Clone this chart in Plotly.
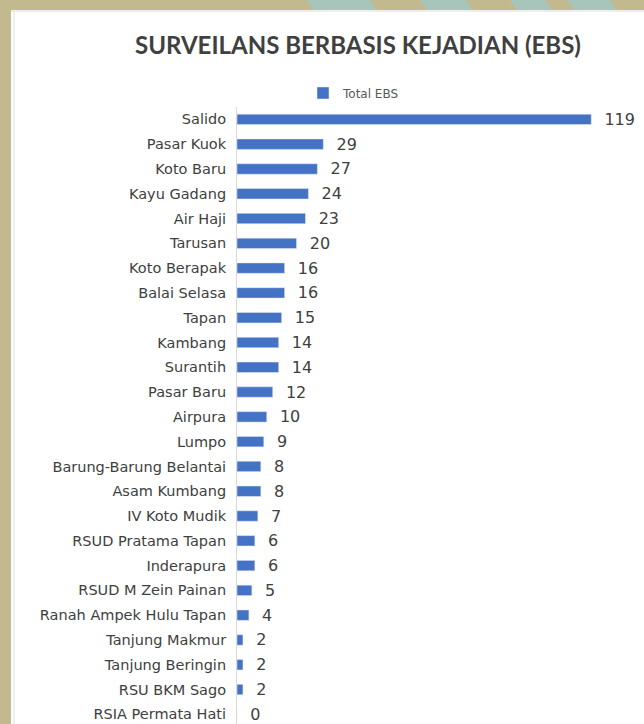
import plotly.graph_objects as go

# data, listed top to bottom as in the chart
locations = [
    "Salido", "Pasar Kuok", "Koto Baru", "Kayu Gadang", "Air Haji", "Tarusan",
    "Koto Berapak", "Balai Selasa", "Tapan", "Kambang", "Surantih", "Pasar Baru",
    "Airpura", "Lumpo", "Barung-Barung Belantai", "Asam Kumbang", "IV Koto Mudik",
    "RSUD Pratama Tapan", "Inderapura", "RSUD M Zein Painan",
    "Ranah Ampek Hulu Tapan", "Tanjung Makmur", "Tanjung Beringin",
    "RSU BKM Sago", "RSIA Permata Hati",
]
total_ebs = [119, 29, 27, 24, 23, 20, 16, 16, 15, 14, 14, 12, 10, 9, 8, 8, 7,
             6, 6, 5, 4, 2, 2, 2, 0]

W, H = 644, 724
L, R, T, B = 237, 20, 107, 0

TAN = "#c3b98f"
TEAL = "#a7c5bb"
BLUE = "#4472C4"
TEXT = "#404040"
FONT = "DejaVu Sans"


def px(x):
    return (x - L) / (W - L - R)


def py(y):
    return 1 - (y - T) / (H - T - B)


fig = go.Figure()

fig.add_trace(go.Bar(
    x=total_ebs,
    y=locations,
    orientation="h",
    name="Total EBS",
    marker_color=BLUE,
    texttemplate="\u00a0\u00a0%{x}",
    textposition="outside",
    constraintext="none",
    textfont=dict(size=16, color=TEXT, family=FONT),
    cliponaxis=False,
))

shapes = [
    # white slide panel
    dict(type="rect", xref="paper", yref="paper", layer="below",
         x0=px(11), x1=px(W + 5), y0=py(10), y1=py(H + 5),
         fillcolor="white", line_width=0),
    dict(type="line", xref="paper", yref="paper", layer="below",
         x0=px(11), x1=px(W), y0=py(11), y1=py(11),
         line=dict(color="#dcdcdc", width=1)),
    dict(type="line", xref="paper", yref="paper", layer="below",
         x0=px(14), x1=px(14), y0=py(11), y1=py(H),
         line=dict(color="#e0e0e0", width=1)),
]

# teal diagonal stripes along the top strip
for a, b in [(307, 370), (420, 466), (510, 545), (567, 610)]:
    path = (f"M {px(a)},{py(0)} L {px(b)},{py(0)} "
            f"L {px(b + 7)},{py(10)} L {px(a + 7)},{py(10)} Z")
    shapes.append(dict(type="path", xref="paper", yref="paper", layer="below",
                       path=path, fillcolor=TEAL, line_width=0))

fig.update_layout(
    width=W,
    height=H,
    margin=dict(l=L, r=R, t=T, b=B, pad=0),
    paper_bgcolor=TAN,
    plot_bgcolor="white",
    font=dict(family=FONT, color=TEXT),
    bargap=0.58,
    shapes=shapes,
    title=dict(
        text="<b>SURVEILANS BERBASIS KEJADIAN (EBS)</b>",
        font=dict(size=24, color=TEXT, family="Lato"),
        x=358 / W, xanchor="center",
        y=1 - 46 / H, yanchor="middle",
    ),
    showlegend=True,
    legend=dict(
        orientation="h",
        x=px(303), xanchor="left",
        y=py(93), yanchor="middle",
        font=dict(size=12, color="#595959", family=FONT),
        bgcolor="rgba(0,0,0,0)",
    ),
    xaxis=dict(
        range=[0, 130],
        visible=False,
    ),
    yaxis=dict(
        type="category",
        range=[len(locations) - 1 + 0.39, -0.5],
        showline=True,
        linecolor="#d9d9d9",
        linewidth=1,
        showgrid=False,
        ticks="",
        ticklabelstandoff=7,
        tickfont=dict(size=14.5, color=TEXT, family=FONT),
    ),
)

# drop the default page margin so the figure sits at the window corner
fig.write_html("out.html", config={"displayModeBar": False},
               post_script="document.body.style.margin='0';")
